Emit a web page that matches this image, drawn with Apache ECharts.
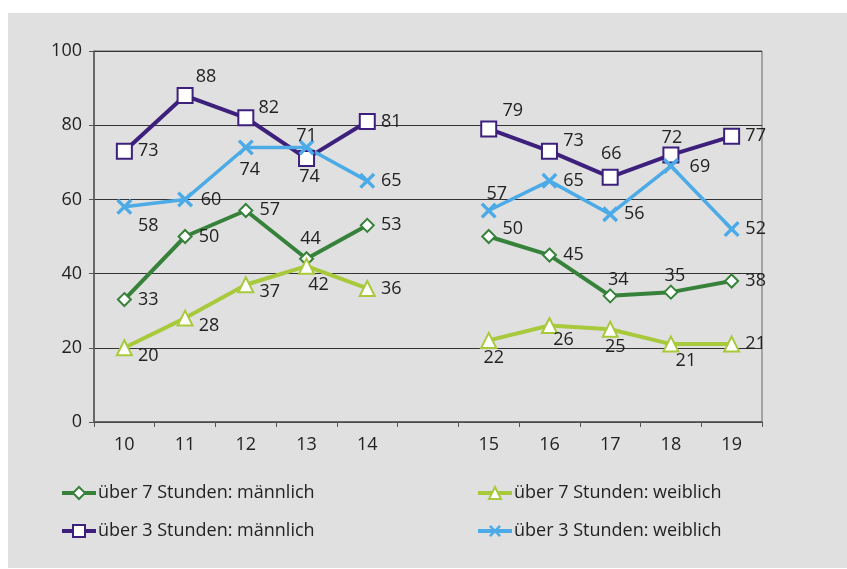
<!DOCTYPE html>
<html>
<head>
<meta charset="utf-8">
<script src="https://cdn.jsdelivr.net/npm/echarts@6/dist/echarts.min.js"></script>
<style>
html, body { margin: 0; padding: 0; background: #fff; }
#main { width: 847px; height: 569px; }
</style>
</head>
<body>
<div id="main"></div>
<script>
// Daten
var categories = ['10', '11', '12', '13', '14', '', '15', '16', '17', '18', '19'];
var seriesNames = ['über 7 Stunden: männlich', 'über 7 Stunden: weiblich', 'über 3 Stunden: männlich', 'über 3 Stunden: weiblich'];
var m7 = [33, 50, 57, 44, 53, null, 50, 45, 34, 35, 38];
var w7 = [20, 28, 37, 42, 36, null, 22, 26, 25, 21, 21];
var m3 = [73, 88, 82, 71, 81, null, 79, 73, 66, 72, 77];
var w3 = [58, 60, 74, 74, 65, null, 57, 65, 56, 69, 52];

// Beschriftungsversatz (Pixel, relativ zum Punkt)
var offM7 = [[24, 0], [24, 0], [24, -1], [4, -20], [24, 0], null, [24, -8], [24, 0], [8, -16], [4, -16], [24, 0]];
var offW7 = [[24, 8], [24, 8], [24, 7], [12, 19], [24, 0], null, [5, 17], [14, 14], [5, 18], [15, 17], [24, 0]];
var offM3 = [[24, 0], [21, -19], [23, -10], [0, -23], [24, 0], null, [24, -18], [24, -10], [1, -23], [1, -17], [24, 0]];
var offW3 = [[24, 19], [26, 0], [4, 22], [3, 29], [24, 0], null, [8, -17], [24, 0], [24, 0], [29, 1], [24, 0]];

var colors = ['#37823b', '#a8c93c', '#3d1f7c', '#4cabe6'];
var fontName = 'Open Sans';

function buildData(values, offsets) {
    var out = [];
    for (var i = 0; i < values.length; i++) {
        if (values[i] === null) {
            out.push(null);
            continue;
        }
        out.push({
            value: values[i],
            label: { offset: offsets[i] }
        });
    }
    return out;
}

function makeSeries(idx, values, offsets, symbol, size, lineWidth) {
    return {
        name: seriesNames[idx],
        type: 'line',
        data: buildData(values, offsets),
        symbol: symbol,
        symbolSize: size,
        showAllSymbol: true,
        connectNulls: false,
        lineStyle: { color: colors[idx], width: lineWidth },
        itemStyle: {
            color: idx === 3 ? colors[idx] : '#fff',
            borderColor: colors[idx],
            borderWidth: idx === 3 ? 0 : 2
        },
        label: {
            show: true,
            position: 'inside',
            color: '#222',
            fontFamily: fontName,
            fontSize: 18
        },
        emphasis: { disabled: true }
    };
}

// X-Markierung mit dünneren Armen
var crossPath = 'path://M1.5,0 L5,3.5 L8.5,0 L10,1.5 L6.5,5 L10,8.5 L8.5,10 L5,6.5 L1.5,10 L0,8.5 L3.5,5 L0,1.5 Z';

var myChart = echarts.init(document.getElementById('main'));

function legendAt(name, left, top) {
    return {
        data: [name],
        left: left,
        top: top,
        padding: 0,
        itemWidth: 34,
        itemHeight: 15,
        itemGap: 0,
        lineStyle: { width: 4 },
        textStyle: { color: '#222', fontFamily: fontName, fontSize: 18, padding: [0, 0, 0, -3] }
    };
}

option = {
    backgroundColor: '#fff',
    animation: false,
    graphic: [{
        type: 'rect',
        left: 8,
        top: 13,
        shape: { width: 839, height: 555 },
        style: { fill: '#e0e0e0' },
        z: -10
    }],
    legend: [
        legendAt(seriesNames[0], 60, 484),
        legendAt(seriesNames[1], 476, 484),
        legendAt(seriesNames[2], 60, 522),
        legendAt(seriesNames[3], 476, 522)
    ],
    grid: {
        left: 94,
        top: 51,
        right: 85,
        bottom: 147,
        show: true,
        borderColor: '#666',
        borderWidth: 1,
        backgroundColor: 'transparent'
    },
    xAxis: {
        type: 'category',
        data: categories,
        boundaryGap: true,
        axisLine: { lineStyle: { color: '#555', width: 1.5 } },
        axisTick: { show: true, inside: false, length: 5, interval: 0, lineStyle: { color: '#555' } },
        axisLabel: { color: '#222', fontFamily: fontName, fontSize: 18, margin: 14, interval: 0 },
        splitLine: { show: false }
    },
    yAxis: {
        type: 'value',
        min: 0,
        max: 100,
        interval: 20,
        axisLine: { show: true, lineStyle: { color: '#555', width: 1.5 } },
        axisTick: { show: true, length: 5, lineStyle: { color: '#555' } },
        axisLabel: { color: '#222', fontFamily: fontName, fontSize: 18, margin: 12 },
        splitLine: { show: true, lineStyle: { color: '#333', width: 1 } }
    },
    series: [
        makeSeries(0, m7, offM7, 'diamond', 13, 4),
        makeSeries(1, w7, offW7, 'triangle', 15, 4),
        makeSeries(2, m3, offM3, 'rect', 15, 4),
        makeSeries(3, w3, offW3, crossPath, 16, 3.5)
    ]
};

myChart.setOption(option);
</script>
</body>
</html>
